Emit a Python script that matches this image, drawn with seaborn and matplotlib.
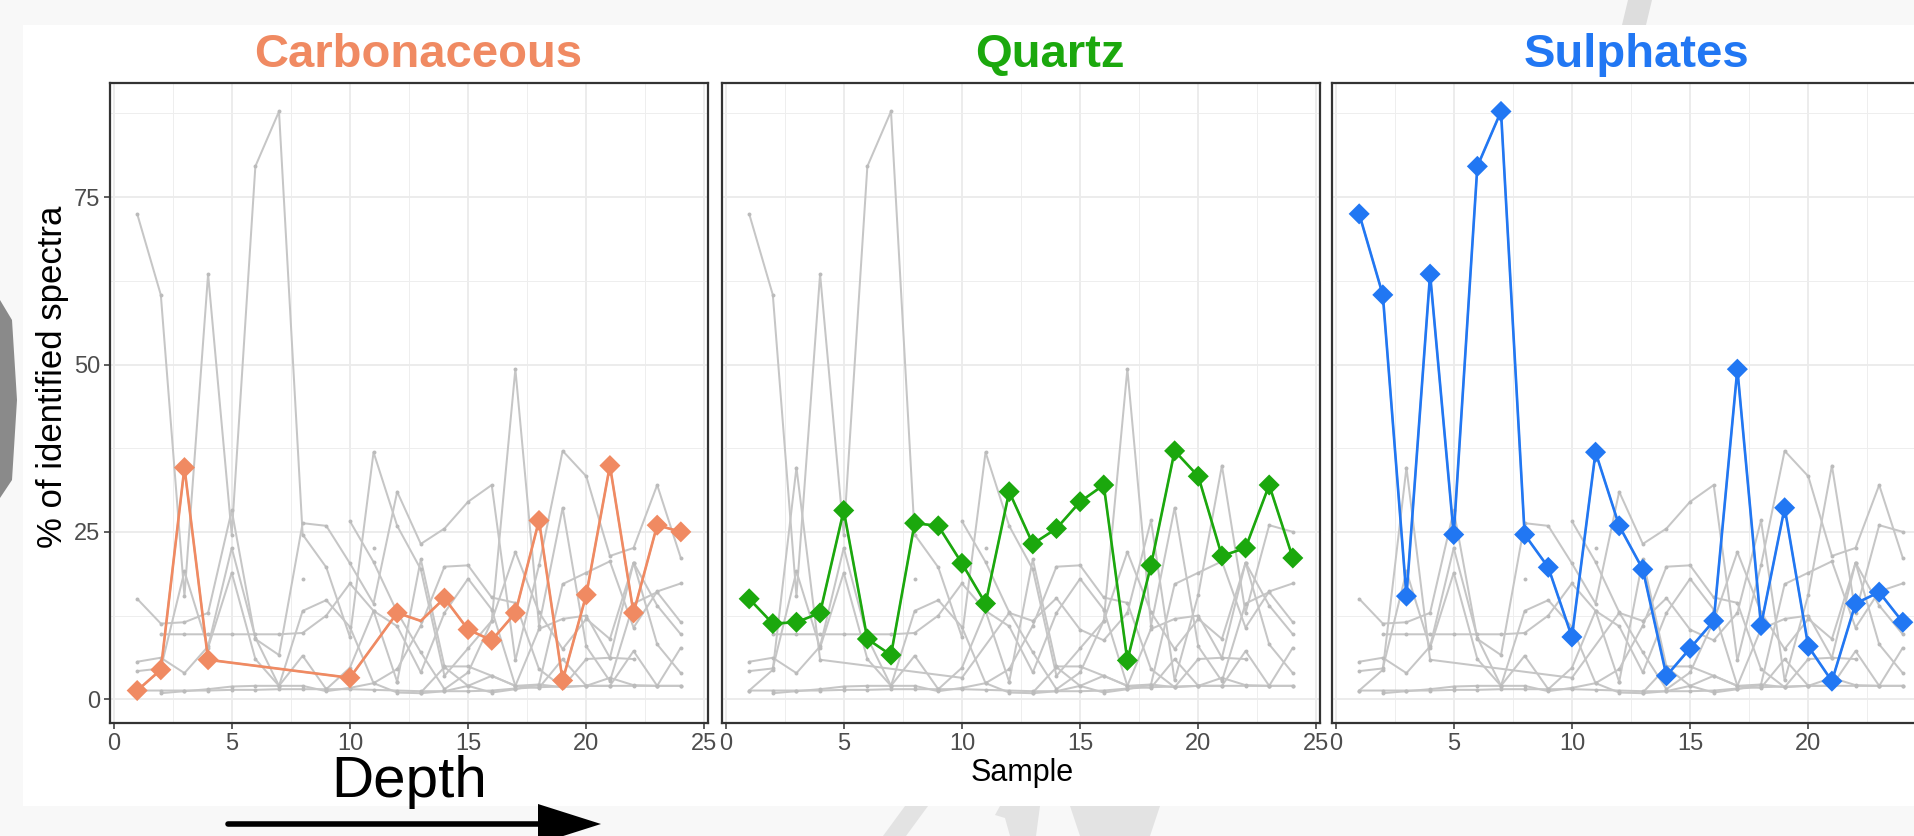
import numpy as np
import pandas as pd
import matplotlib.pyplot as plt
from matplotlib.patches import Rectangle, Polygon
import seaborn as sns

# ------------------------------------------------------------------
# data: % of identified spectra per sample
# ------------------------------------------------------------------
nan = np.nan
samples = list(range(1, 25))

carbonaceous = [1.3, 4.4, 34.6, 5.9, nan, nan, nan, nan, nan, 3.2, nan, 12.9,
                11.7, 15.1, 10.4, 8.8, 12.9, 26.7, 2.8, 15.6, 34.9, 12.9, 26.0, 25.0]
carb_no_marker = [13]
quartz = [15.0, 11.3, 11.5, 12.9, 28.2, 9.0, 6.6, 26.3, 25.9, 20.3, 14.3, 31.0,
          23.2, 25.5, 29.5, 32.0, 5.8, 20.0, 37.1, 33.3, 21.4, 22.6, 32.0, 21.1]
sulphates = [72.5, 60.4, 15.4, 63.5, 24.6, 79.6, 87.8, 24.6, 19.7, 9.3, 36.9, 25.9,
             19.4, 3.5, 7.6, 11.7, 49.3, 11.0, 28.6, 7.9, 2.7, 14.3, 16.0, 11.5]

# the remaining minerals, only drawn in grey
other_a = [1.3, 1.3, 1.3, 1.3, 1.4, 1.4, 1.5, 1.5, 1.5, 1.5, 1.4, 1.3,
           1.2, 1.2, 1.2, 1.3, 1.6, 1.8, 1.9, 2.0, 2.0, 2.0, 2.0, 2.0]
other_b = [nan, 0.9, 1.2, 1.5, 1.9, 2.0, 2.0, 2.0, 1.2, 1.7, 2.4, 1.0,
           0.9, 1.2, 2.0, 1.0, 1.5, 2.2, 1.8, 2.0, 3.2, 2.1, 2.0, 2.0]
other_c = [nan, 9.7, 9.7, 9.7, 9.7, 9.7, 9.7, 9.9, 12.5, 17.3, 13.2, 10.9,
           4.0, 12.9, 18.0, 13.4, 2.0, 2.2, 17.2, 18.9, 20.6, 10.7, 16.1, 17.3]
other_d = [5.6, 6.2, 3.9, 7.9, 22.6, 9.2, 2.0, 13.2, 14.8, 10.8, 2.4, 4.5,
           11.0, 19.8, 20.0, 15.2, 14.4, 4.5, 1.8, 6.0, 6.2, 20.4, 8.2, 3.9]
other_e = [4.2, 4.6, 19.1, 7.7, 18.9, 6.0, 2.0, 6.5, 1.5, 4.7, 13.2, 2.6,
           20.9, 4.9, 4.9, 3.5, 2.0, 1.7, 6.0, 2.0, 2.0, 7.2, 2.0, 7.7]
other_f = [nan, nan, nan, nan, nan, nan, nan, nan, nan, 26.6, 20.5, 13.0,
           7.0, 1.5, 4.0, 11.7, 22.0, 13.0, 7.5, 12.0, 9.0, 20.4, 14.0, 9.7]
other_g = [nan, nan, nan, nan, nan, nan, nan, nan, nan, nan, nan, nan,
           1.0, 4.8, 2.0, 3.5, 2.0, 10.5, 12.0, 12.5, 6.2, 6.0, nan, nan]
# single detections (no neighbours -> just a dot)
isolated_samples = [8, 11, 12, 14, 16]
isolated_values = [18.0, 22.6, 2.6, 4.8, 13.4]

minerals = {
    'Carbonaceous': carbonaceous, 'Quartz': quartz, 'Sulphates': sulphates,
    'Other A': other_a, 'Other B': other_b, 'Other C': other_c, 'Other D': other_d,
    'Other E': other_e, 'Other F': other_f, 'Other G': other_g,
}
panels = ['Carbonaceous', 'Quartz', 'Sulphates']
panel_colors = ['#F08A62', '#1BA80D', '#2177F3']

df = pd.DataFrame({'Sample': samples, **minerals})
df = df.melt(id_vars='Sample', var_name='Mineral', value_name='Value').dropna()
df_iso = pd.DataFrame({'Sample': isolated_samples, 'Value': isolated_values})

# ------------------------------------------------------------------
# figure
# ------------------------------------------------------------------
sns.set_theme(style="white")
plt.rcParams['font.family'] = ['Liberation Sans', 'DejaVu Sans']

W, H = 1915, 836
fig = plt.figure(figsize=(W / 100, H / 100), dpi=100, facecolor='#F8F8F8')


def fx(px):
    return px / W


def fy(py):
    return 1 - py / H


# white plot background + slide decorations
fig.patches.append(Rectangle((fx(23), fy(806)), fx(1915 - 23), (806 - 25) / H,
                             transform=fig.transFigure, facecolor='white',
                             edgecolor='none', zorder=-10))
fig.patches.append(Polygon([(fx(0), fy(300)), (fx(12), fy(320)), (fx(17), fy(400)),
                            (fx(12), fy(480)), (fx(0), fy(498))], closed=True,
                           transform=fig.transFigure, facecolor='#8A8A8A',
                           edgecolor='none', zorder=-9))
fig.patches.append(Polygon([(fx(1628), fy(0)), (fx(1652), fy(0)), (fx(1646), fy(25)),
                            (fx(1622), fy(25))], closed=True, transform=fig.transFigure,
                           facecolor='#DDDDDD', edgecolor='none', zorder=-9))
for pts in ([(905, 806), (928, 806), (906, 836), (883, 836)],
            [(1000, 806), (1040, 806), (1036, 836), (1010, 836), (1005, 818), (995, 815)],
            [(1070, 806), (1160, 806), (1150, 836), (1080, 836)]):
    fig.patches.append(Polygon([(fx(a), fy(b)) for a, b in pts], closed=True,
                               transform=fig.transFigure, facecolor='#E3E3E3',
                               edgecolor='none', zorder=-9))

grey = '#C6C6C6'
lefts = [110, 722, 1332]
title_x = [418, 1050, 1637]
pw, top, bottom = 598, 83, 723

for i, (name, col) in enumerate(zip(panels, panel_colors)):
    ax = fig.add_axes([fx(lefts[i]), fy(bottom), fx(pw), (bottom - top) / H])
    ax.set_facecolor('white')

    # every mineral in grey
    sns.lineplot(data=df, x='Sample', y='Value', units='Mineral', estimator=None,
                 color=grey, linewidth=1.45, ax=ax, legend=False, zorder=2)
    ax.scatter(df['Sample'], df['Value'], s=8, color='#BBBBBB', zorder=2, linewidths=0)
    ax.scatter(df_iso['Sample'], df_iso['Value'], s=8, color='#BBBBBB', zorder=2,
               linewidths=0)

    # highlighted mineral
    sub = df[df['Mineral'] == name]
    sns.lineplot(data=sub, x='Sample', y='Value', estimator=None, color=col,
                 linewidth=1.9, ax=ax, legend=False, zorder=3)
    if name == 'Carbonaceous':
        sub = sub[~sub['Sample'].isin(carb_no_marker)]
    sns.scatterplot(data=sub, x='Sample', y='Value', marker='D', s=115, color=col,
                    edgecolor='none', ax=ax, legend=False, zorder=4)

    ax.set_xlim(-0.15, 25.15)
    ax.set_ylim(-3.55, 92.05)
    ax.set_xticks([0, 5, 10, 15, 20, 25])
    ax.set_xticks(np.arange(2.5, 25, 5), minor=True)
    ax.set_yticks([0, 25, 50, 75])
    ax.set_yticks([12.5, 37.5, 62.5, 87.5], minor=True)
    ax.grid(which='major', color='#EBEBEB', linewidth=1.3, zorder=0)
    ax.grid(which='minor', color='#EEEEEE', linewidth=0.7, zorder=0)
    ax.set_axisbelow(True)
    ax.tick_params(which='major', length=4, width=1.1, color='#333333',
                   labelsize=17, labelcolor='#4D4D4D', pad=3,
                   bottom=True, left=(i == 0))
    ax.tick_params(which='minor', length=0)
    if i > 0:
        ax.set_yticklabels([])
    ax.set_xlabel('')
    ax.set_ylabel('')
    for sp in ax.spines.values():
        sp.set_color('#333333')
        sp.set_linewidth(1.6)

    fig.text(fx(title_x[i]), fy(55), name, color=col, fontsize=34,
             fontweight='bold', ha='center', va='center')

fig.text(fx(53), fy(377), '% of identified spectra', rotation=90, fontsize=25,
         ha='center', va='center', color='black')
fig.text(fx(1022), fy(773), 'Sample', fontsize=22, ha='center', va='center',
         color='black')
fig.text(fx(409), fy(782), 'Depth', fontsize=42, ha='center', va='center',
         color='black')
fig.add_artist(plt.Line2D([fx(228), fx(545)], [fy(824), fy(824)], color='black',
                          linewidth=4, transform=fig.transFigure))
fig.patches.append(Polygon([(fx(538), fy(804)), (fx(601), fy(824)), (fx(538), fy(844))],
                           closed=True, transform=fig.transFigure,
                           facecolor='black', edgecolor='none'))

fig.savefig('out.png', dpi=100, facecolor=fig.get_facecolor())
